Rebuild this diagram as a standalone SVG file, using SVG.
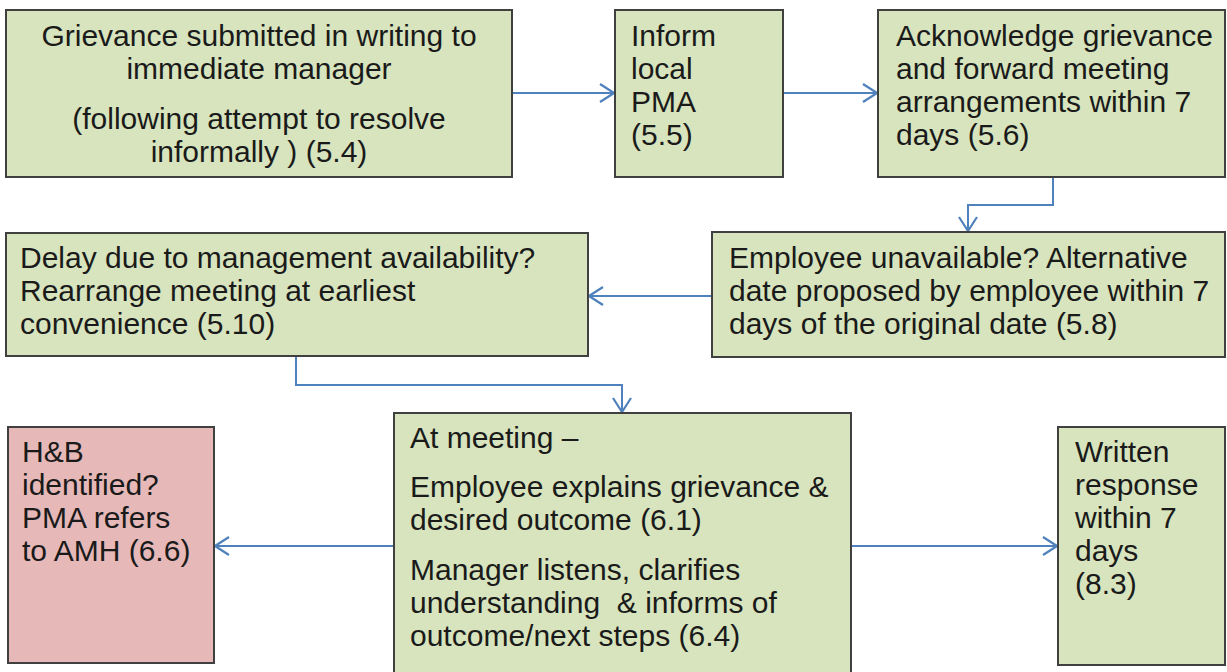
<svg xmlns="http://www.w3.org/2000/svg" width="1227" height="672" viewBox="0 0 1227 672">
<style>
.box{fill:#D7E4BD;stroke:#404040;stroke-width:2}
.pink{fill:#E6B9B8;stroke:#404040;stroke-width:2}
.t{font-family:"Liberation Sans",Arial,sans-serif;font-size:30px;fill:#1a1a1a}
.c{text-anchor:middle}
.conn{fill:none;stroke:#4F81BD;stroke-width:2}
</style>
<defs>
<marker id="arr" viewBox="0 0 16 20" refX="15" refY="10" markerWidth="16" markerHeight="20" markerUnits="userSpaceOnUse" orient="auto">
<path d="M1,1 L15,10 L1,19" fill="none" stroke="#4F81BD" stroke-width="2.2"/>
</marker>
</defs>
<rect width="1227" height="672" fill="#ffffff"/>
<g id="connectors">
<path class="conn" d="M512,93 L614,93" marker-end="url(#arr)"/>
<path class="conn" d="M783,93 L877,93" marker-end="url(#arr)"/>
<path class="conn" d="M1053,177 L1053,205 L968,205 L968,231" marker-end="url(#arr)"/>
<path class="conn" d="M712,296 L589,296" marker-end="url(#arr)"/>
<path class="conn" d="M296,356 L296,385 L622,385 L622,412" marker-end="url(#arr)"/>
<path class="conn" d="M394,546 L215,546" marker-end="url(#arr)"/>
<path class="conn" d="M851,546 L1057,546" marker-end="url(#arr)"/>
</g>
<g id="n1">
<rect class="box" x="6" y="10" width="506" height="167"/>
<text class="t c" x="259" y="46">Grievance submitted in writing to</text>
<text class="t c" x="259" y="79">immediate manager</text>
<text class="t c" x="259" y="129">(following attempt to resolve</text>
<text class="t c" x="259" y="162">informally ) (5.4)</text>
</g>
<g id="n2">
<rect class="box" x="615" y="10" width="168" height="167"/>
<text class="t" x="631" y="46">Inform</text>
<text class="t" x="631" y="79">local</text>
<text class="t" x="631" y="112">PMA</text>
<text class="t" x="631" y="145">(5.5)</text>
</g>
<g id="n3">
<rect class="box" x="878" y="10" width="347" height="167"/>
<text class="t" x="896" y="46">Acknowledge grievance</text>
<text class="t" x="896" y="79">and forward meeting</text>
<text class="t" x="896" y="112">arrangements within 7</text>
<text class="t" x="896" y="145">days (5.6)</text>
</g>
<g id="n4">
<rect class="box" x="712" y="232" width="513" height="125"/>
<text class="t" x="729" y="268">Employee unavailable? Alternative</text>
<text class="t" x="729" y="301">date proposed by employee within 7</text>
<text class="t" x="729" y="334">days of the original date (5.8)</text>
</g>
<g id="n5">
<rect class="box" x="6" y="233" width="582" height="123"/>
<text class="t" x="20" y="268">Delay due to management availability?</text>
<text class="t" x="20" y="301">Rearrange meeting at earliest</text>
<text class="t" x="20" y="334">convenience (5.10)</text>
</g>
<g id="n6">
<rect class="pink" x="8" y="427" width="206" height="236"/>
<text class="t" x="22" y="462">H&amp;B</text>
<text class="t" x="22" y="495">identified?</text>
<text class="t" x="22" y="528">PMA refers</text>
<text class="t" x="22" y="561">to AMH (6.6)</text>
</g>
<g id="n7">
<rect class="box" x="394" y="413" width="457" height="270"/>
<text class="t" x="410" y="448">At meeting –</text>
<text class="t" x="410" y="497">Employee explains grievance &amp;</text>
<text class="t" x="410" y="530">desired outcome (6.1)</text>
<text class="t" x="410" y="580">Manager listens, clarifies</text>
<text class="t" x="410" y="613" xml:space="preserve">understanding  &amp; informs of</text>
<text class="t" x="410" y="646">outcome/next steps (6.4)</text>
</g>
<g id="n8">
<rect class="box" x="1058" y="427" width="167" height="238"/>
<text class="t" x="1075" y="462">Written</text>
<text class="t" x="1075" y="495">response</text>
<text class="t" x="1075" y="528">within 7</text>
<text class="t" x="1075" y="561">days</text>
<text class="t" x="1075" y="594">(8.3)</text>
</g>
</svg>
